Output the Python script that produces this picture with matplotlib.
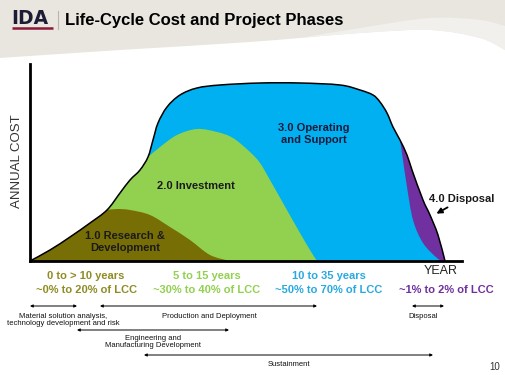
import numpy as np
import matplotlib
matplotlib.use("Agg")
import matplotlib.pyplot as plt
from matplotlib.path import Path
from matplotlib.patches import PathPatch

plt.rcParams['font.family'] = ['Liberation Sans', 'DejaVu Sans']

# ------- data (arbitrary cost units) ------- #
# outer envelope = total annual cost
outer_t = [0, 20, 40, 60, 77, 90, 100, 110, 118, 123, 128, 137, 150, 167, 190, 230,
           270, 310, 330, 343, 350, 357, 363, 370, 377, 382, 393, 400, 408, 415]
outer_c = [0, 11, 24, 38, 51, 68, 81, 91, 104, 121, 138, 154, 166, 173, 176, 178,
           178, 176, 171, 166, 159, 148, 134, 121, 106, 91, 61, 46, 26, 0]

# investment (green) leaves the envelope at outer index 8
inv_split = 8
inv_t = [130, 147, 167, 187, 203, 220, 230, 240, 253, 270, 280, 287]
inv_c = [114, 126, 132, 129, 123, 109, 98, 81, 58, 28, 11, 0]

# R&D (olive) leaves the envelope at outer index 4
rd_split = 4
rd_t = [87, 100, 120, 140, 160, 180, 200]
rd_c = [52, 51, 46, 34, 21, 6, 0]

# disposal (purple) starts on the envelope at outer index 23
disp_split = 23
disp_t = [413, 407, 393, 383, 377, 373]
disp_c = [0, 3, 18, 41, 74, 101]

phase_years = ["0 to > 10 years", "5 to 15 years", "10 to 35 years", ""]
phase_share = ["~0% to 20% of LCC", "~30% to 40% of LCC", "~50% to 70% of LCC", "~1% to 2% of LCC"]
phase_colors = ["#8e8c22", "#92d050", "#29a9e1", "#7030a0"]

# (start, end, y, label, label x, label y) of the milestone spans, in pixels
spans = [
    (30, 77, 306, "Material solution analysis,\ntechnology development and risk", 63, 320),
    (100, 317, 306, "Production and Deployment", 209, 317),
    (412, 444, 306, "Disposal", 423, 316),
    (77, 229, 330, "Engineering and\nManufacturing Development", 153, 342),
    (144, 433, 355, "Sustainment", 289, 365),
]


def cr_segments(x, y):
    p = np.column_stack([x, y]).astype(float)
    n = len(p)
    segs = []
    for i in range(n - 1):
        p0 = p[i - 1] if i > 0 else p[i]
        p3 = p[i + 2] if i + 2 < n else p[i + 1]
        c1 = p[i] + (p[i + 1] - p0) / 6
        c2 = p[i + 1] - (p3 - p[i]) / 6
        segs.append((c1, c2, p[i + 1]))
    return segs


def add_segs(verts, codes, segs):
    for c1, c2, p in segs:
        verts += [c1, c2, p]
        codes += [Path.CURVE4] * 3


outer_segs = cr_segments(outer_t, outer_c)

fig = plt.figure(figsize=(5.05, 3.75), dpi=100)

# background: beige band with a white swoosh
bg = fig.add_axes([0, 0, 1, 1], zorder=0)
bg.set_xlim(0, 505)
bg.set_ylim(375, 0)
bg.axis("off")
swoosh_x = [0, 120, 250, 360, 430, 480, 505]
swoosh_y = [58, 50, 42, 33, 30, 38, 50]
v, c = [(0, 0), (0, swoosh_y[0])], [Path.MOVETO, Path.LINETO]
add_segs(v, c, cr_segments(swoosh_x, swoosh_y))
v += [(505, 0), (0, 0)]
c += [Path.LINETO, Path.CLOSEPOLY]
bg.add_patch(PathPatch(Path(v, c), fc="#e9e6e0", ec="none"))
# softer band just above the white area
v, c = [(300, 38)], [Path.MOVETO]
add_segs(v, c, cr_segments([300, 360, 430, 480, 505], [38, 28, 18, 20, 26]))
v += [(505, 50)]
c += [Path.LINETO]
add_segs(v, c, cr_segments([505, 480, 430, 360, 300], [50, 38, 30, 33, 38]))
bg.add_patch(PathPatch(Path(v, c), fc="#f2f0ec", ec="none"))

# chart
ax = fig.add_axes([30 / 505, 114 / 375, 432 / 505, 197 / 375], zorder=1)
ax.set_facecolor("none")
ax.set_xlim(0, 432)
ax.set_ylim(0, 197)
ax.set_xticks([])
ax.set_yticks([])
for s in ["top", "right"]:
    ax.spines[s].set_visible(False)
for s in ["left", "bottom"]:
    ax.spines[s].set_linewidth(2)
    ax.spines[s].set_color("black")

# operating & support (whole envelope)
v, c = [(outer_t[0], outer_c[0])], [Path.MOVETO]
add_segs(v, c, outer_segs)
v.append((0, 0)); c.append(Path.CLOSEPOLY)
ax.add_patch(PathPatch(Path(v, c), fc="#00b0f0", ec="none"))

# investment
v, c = [(outer_t[0], outer_c[0])], [Path.MOVETO]
add_segs(v, c, outer_segs[:inv_split])
add_segs(v, c, cr_segments([outer_t[inv_split]] + inv_t, [outer_c[inv_split]] + inv_c))
v.append((0, 0)); c.append(Path.CLOSEPOLY)
ax.add_patch(PathPatch(Path(v, c), fc="#92d050", ec="none"))

# research & development
v, c = [(outer_t[0], outer_c[0])], [Path.MOVETO]
add_segs(v, c, outer_segs[:rd_split])
add_segs(v, c, cr_segments([outer_t[rd_split]] + rd_t, [outer_c[rd_split]] + rd_c))
v.append((0, 0)); c.append(Path.CLOSEPOLY)
ax.add_patch(PathPatch(Path(v, c), fc="#786e06", ec="none"))

# disposal
v, c = [(outer_t[disp_split], outer_c[disp_split])], [Path.MOVETO]
add_segs(v, c, outer_segs[disp_split:])
add_segs(v, c, cr_segments([outer_t[-1]] + disp_t + [outer_t[disp_split]],
                           [outer_c[-1]] + disp_c + [outer_c[disp_split]]))
v.append(v[0]); c.append(Path.CLOSEPOLY)
ax.add_patch(PathPatch(Path(v, c), fc="#7030a0", ec="none"))

# envelope outline
v, c = [(outer_t[0], outer_c[0])], [Path.MOVETO]
add_segs(v, c, outer_segs)
ax.add_patch(PathPatch(Path(v, c), fc="none", ec="black", lw=1.1))

# texts & annotations (pixel coords)
top = fig.add_axes([0, 0, 1, 1], zorder=2)
top.set_facecolor("none")
top.set_xlim(0, 505)
top.set_ylim(375, 0)
top.axis("off")

top.text(11, 19, "IDA", fontsize=13.5, fontweight="bold", color="#1c1c34", va="center",
         ha="left", family="DejaVu Sans")
top.plot([12, 53], [27.5, 27.5], color="#8b1a3a", lw=1.8, solid_capstyle="butt")
top.plot([58, 58], [11, 29], color="#b8b4ae", lw=0.8)
top.text(65, 20, "Life-Cycle Cost and Project Phases", fontsize=12, fontweight="bold",
         color="black", va="center", ha="left")

top.text(17, 161, "ANNUAL COST", rotation=90, fontsize=9.5, color="#333333", ha="center", va="center")
top.text(441, 271, "YEAR", fontsize=9, color="#222222", ha="center", va="center")

lab = dict(fontsize=8, fontweight="bold", ha="center", va="center", linespacing=1.25)
top.text(125, 242, "1.0 Research &\nDevelopment", color="#1a1a1a", **lab)
top.text(196, 186, "2.0 Investment", color="#1a1a1a", **lab)
top.text(314, 134, "3.0 Operating\nand Support", color="#1a1a3a", **lab)
top.text(462, 199, "4.0 Disposal", color="#1a1a1a", **lab)
top.annotate("", xy=(434, 215), xytext=(450, 206),
             arrowprops=dict(arrowstyle="-|>", color="black", lw=1.3, mutation_scale=8))

for i, (yr, sh, col) in enumerate(zip(phase_years, phase_share, phase_colors)):
    cx = [86, 207, 329, 446][i]
    if yr:
        top.text(cx, 276, yr, color=col, **lab)
    top.text(cx, 290, sh, color=col, **lab)

for x0, x1, y, label, lx, ly in spans:
    top.annotate("", xy=(x0, y), xytext=(x1, y),
                 arrowprops=dict(arrowstyle="<|-|>", color="black", lw=0.7,
                                 mutation_scale=4, shrinkA=0, shrinkB=0))
    top.text(lx, ly, label, fontsize=5.5, ha="center", va="center", color="#111111",
             linespacing=0.9)

top.text(495, 367, "10", fontsize=7, color="#333333", ha="center", va="center")

fig.savefig("out.png", dpi=100)
